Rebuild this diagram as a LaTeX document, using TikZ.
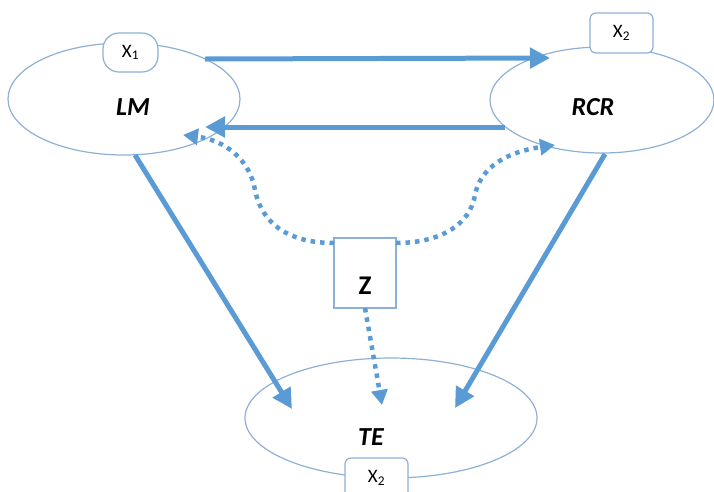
\documentclass[tikz,border=0pt]{standalone}
\usepackage{fontspec}
\setmainfont{Carlito}
\usetikzlibrary{shapes.geometric,arrows.meta}
\definecolor{arrowblue}{HTML}{5B9BD5}
\definecolor{edgeblue}{HTML}{8DB0D6}
\tikzset{
  oval/.style={shape=ellipse, draw=edgeblue, line width=1.2pt, inner sep=0pt, outer sep=0pt},
  tag/.style={draw=edgeblue, fill=white, line width=1.2pt, inner sep=0pt, outer sep=0pt, font=\fontsize{19}{19}\selectfont},
  boxz/.style={draw=edgeblue, fill=white, line width=1.2pt, inner sep=0pt, outer sep=0pt,
    minimum width=62pt, minimum height=70pt},
  lbl/.style={font=\fontsize{26}{26}\selectfont\bfseries\itshape, inner sep=0pt},
  solidarrow/.style={draw=arrowblue, line width=5pt, -{Triangle[length=20pt,width=20pt]}},
  dotarrow/.style={draw=arrowblue, line width=4.5pt, dash pattern=on 4.5pt off 5pt,
    -{Triangle[length=15pt,width=16pt]}}
}
\begin{document}
\begin{tikzpicture}[x=1pt,y=-1pt]
  \useasboundingbox (0,0) rectangle (714,491);
  % main variables
  \node[oval, minimum width=232pt, minimum height=112pt] (LM) at (124,99) {};
  \node[oval, minimum width=224pt, minimum height=106pt] (RCR) at (602,100) {};
  \node[oval, minimum width=292pt, minimum height=120pt] (TE) at (391,418) {};
  \node[boxz] (Z) at (365,273) {};
  % labels
  \node[lbl] (LMtext) at (133,107) {LM};
  \node[lbl] (RCRtext) at (593,107) {RCR};
  \node[lbl] (TEtext) at (371,437) {TE};
  \node[font=\fontsize{27}{27}\selectfont\bfseries, inner sep=0pt] (Ztext) at (365,286) {Z};
  % covariate tags
  \node[tag, rounded corners=16pt, minimum width=55pt, minimum height=39pt] (X1) at (130.5,52.5) {X\textsubscript{1}};
  \node[tag, rounded corners=6pt, minimum width=63pt, minimum height=40pt] (X2a) at (621.5,33) {X\textsubscript{2}};
  \node[tag, rounded corners=6pt, minimum width=63pt, minimum height=40pt] (X2b) at (376.5,478) {X\textsubscript{2}};
  % solid paths
  \draw[solidarrow] ([shift={(81,-40)}]LM.center) -- ([shift={(-52,-42)}]RCR.center);
  \draw[solidarrow] ([shift={(-97,27)}]RCR.center) -- ([shift={(81,28)}]LM.center);
  \draw[solidarrow] ([shift={(11,56)}]LM.center) -- ([shift={(-99,-9)}]TE.center);
  \draw[solidarrow] ([shift={(3,54)}]RCR.center) -- ([shift={(64,-10)}]TE.center);
  % dotted paths from Z
  \draw[dotarrow] (Z.south) -- ([shift={(-9,-13)}]TE.center);
  \draw[dotarrow] ([yshift=-5pt]Z.north west) .. controls (290,243) and (262,225) .. (255,190)
    .. controls (250,160) and (225,140) .. ([shift={(59,36)}]LM.center);
  \draw[dotarrow] ([yshift=-5pt]Z.north east) .. controls (440,243) and (470,225) .. (475,195)
    .. controls (482,160) and (520,150) .. ([shift={(-47,45)}]RCR.center);
\end{tikzpicture}
\end{document}
